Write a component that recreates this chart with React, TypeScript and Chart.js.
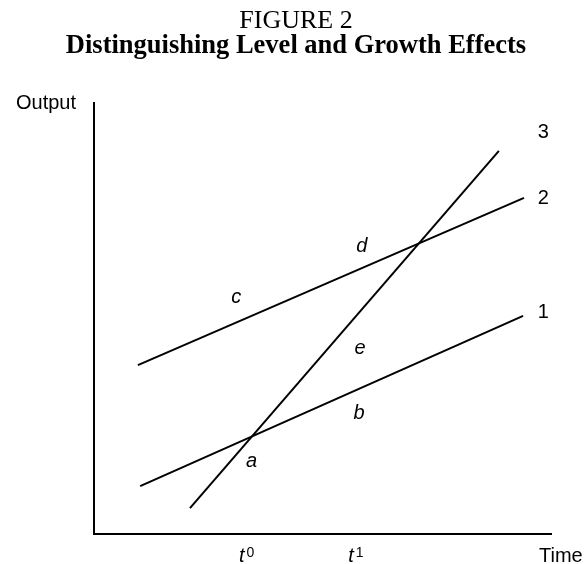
import React, { useEffect, useRef } from 'react';
import { Chart, registerables } from 'chart.js';

Chart.register(...registerables);

// ---- data ----
const titleText = 'FIGURE 2';
const subtitleText = 'Distinguishing Level and Growth Effects';
const yAxisTitle = 'Output';
const xAxisTitle = 'Time';

const timeRange = [0, 10];
const outputRange = [0, 10];

const curveNames = ['1', '2', '3'];
const startTime = [1.01, 0.96, 2.1];
const startOutput = [1.11, 3.92, 0.6];
const endTime = [9.39, 9.41, 8.86];
const endOutput = [5.06, 7.8, 8.89];

const curveLabelTime = [9.83, 9.83, 9.83];
const curveLabelOutput = [5.01, 7.66, 9.19];

const pointNames = ['a', 'b', 'c', 'd', 'e'];
const pointTime = [3.45, 5.8, 3.11, 5.86, 5.82];
const pointOutput = [1.55, 2.67, 5.36, 6.54, 4.18];

const tickBase = ['t', 't'];
const tickSup = ['0', '1'];
const tickTime = [3.34, 5.73];

const SANS = '"Liberation Sans", Arial, Helvetica, sans-serif';
const SERIF = '"Liberation Serif", "Times New Roman", serif';

const annotationPlugin = {
  id: 'figureAnnotations',
  afterDraw(chart: any) {
    const { ctx, chartArea, scales } = chart;
    const x = scales.x;
    const y = scales.y;
    ctx.save();
    ctx.fillStyle = '#000';
    ctx.textBaseline = 'alphabetic';

    // curve numbers
    ctx.font = `20px ${SANS}`;
    ctx.textAlign = 'center';
    curveNames.forEach((t, i) => {
      ctx.fillText(t, x.getPixelForValue(curveLabelTime[i]), y.getPixelForValue(curveLabelOutput[i]));
    });

    // point letters (italic)
    ctx.font = `italic 20px ${SANS}`;
    pointNames.forEach((t, i) => {
      ctx.fillText(t, x.getPixelForValue(pointTime[i]), y.getPixelForValue(pointOutput[i]));
    });

    // tick labels t^0, t^1
    const baseY = chartArea.bottom + 28;
    tickTime.forEach((v, i) => {
      ctx.font = `italic 20px ${SANS}`;
      const wb = ctx.measureText(tickBase[i]).width;
      ctx.font = `14px ${SANS}`;
      const ws = ctx.measureText(tickSup[i]).width;
      const gap = 2;
      const cx = x.getPixelForValue(v);
      const start = cx - (wb + gap + ws) / 2;
      ctx.textAlign = 'left';
      ctx.font = `italic 20px ${SANS}`;
      ctx.fillText(tickBase[i], start, baseY);
      ctx.font = `14px ${SANS}`;
      ctx.fillText(tickSup[i], start + wb + gap, baseY - 5);
    });

    // axis titles
    ctx.font = `20px ${SANS}`;
    ctx.textAlign = 'right';
    ctx.fillText(yAxisTitle, chartArea.left - 18, chartArea.top + 6);
    ctx.textAlign = 'left';
    ctx.fillText(xAxisTitle, chartArea.right - 12, chartArea.bottom + 28);
    ctx.restore();
  },
};

export default function App() {
  const canvasRef = useRef<HTMLCanvasElement | null>(null);

  useEffect(() => {
    if (!canvasRef.current) return;
    const datasets = curveNames.map((name, i) => ({
      label: name,
      data: [
        { x: startTime[i], y: startOutput[i] },
        { x: endTime[i], y: endOutput[i] },
      ],
      borderColor: '#000',
      borderWidth: 2,
      pointRadius: 0,
      fill: false,
      tension: 0,
    }));

    const chart = new Chart(canvasRef.current, {
      type: 'line',
      data: { datasets },
      plugins: [annotationPlugin],
      options: {
        animation: false,
        responsive: true,
        maintainAspectRatio: false,
        events: [],
        layout: { padding: { left: 41, right: 33, top: 0, bottom: 30 } },
        plugins: {
          legend: { display: false },
          tooltip: { enabled: false },
          title: {
            display: true,
            text: titleText,
            color: '#000',
            font: { family: SERIF, size: 26, weight: 'normal', lineHeight: '22px' },
            padding: { top: 10, bottom: 0 },
          },
          subtitle: {
            display: true,
            text: subtitleText,
            color: '#000',
            font: { family: SERIF, size: 26.5, weight: 'bold', lineHeight: '22px' },
            padding: { top: 3, bottom: 46 },
          },
        },
        scales: {
          x: {
            type: 'linear',
            min: timeRange[0],
            max: timeRange[1],
            grid: { display: false, drawTicks: false },
            ticks: { display: false },
            border: { display: true, color: '#000', width: 2 },
          },
          y: {
            type: 'linear',
            min: outputRange[0],
            max: outputRange[1],
            grid: { display: false, drawTicks: false },
            ticks: { display: false },
            border: { display: true, color: '#000', width: 2 },
            afterFit: (scale: any) => {
              scale.width = 53;
            },
          },
        },
      },
    });
    return () => chart.destroy();
  }, []);

  return (
    <div style={{ position: 'fixed', left: 0, top: 0, width: 584, height: 564, background: '#fff' }}>
      <canvas ref={canvasRef} />
    </div>
  );
}
